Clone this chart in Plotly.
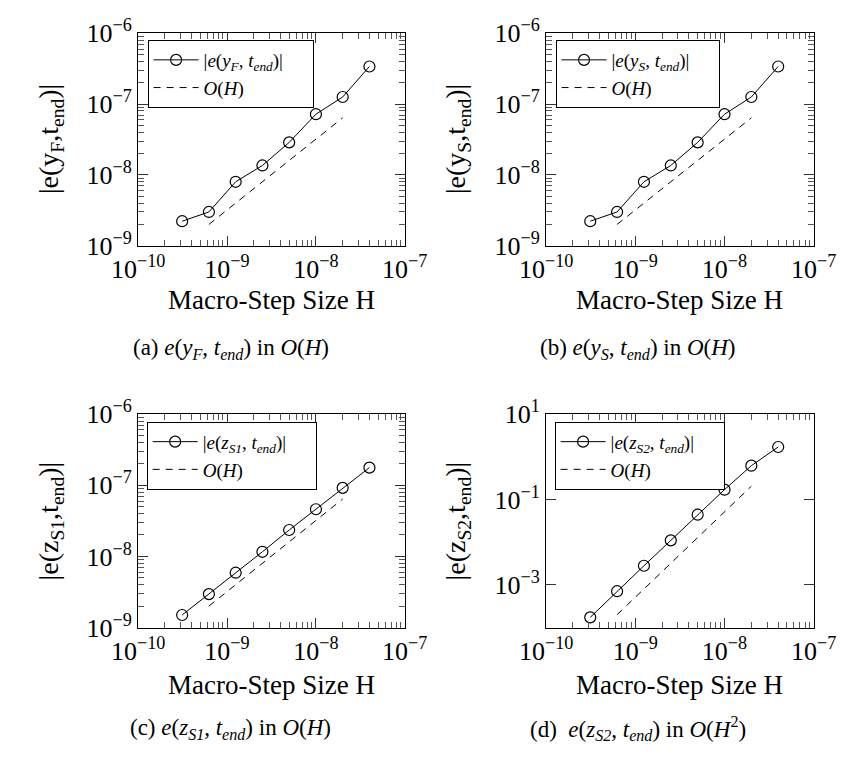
import plotly.graph_objects as go

W, HGT = 864, 765

# ---------------- data ----------------
H = [3.125e-10, 6.25e-10, 1.25e-9, 2.5e-9, 5e-9, 1e-8, 2e-8, 4e-8]
err_yF = [2.22e-9, 3.0e-9, 8.0e-9, 1.36e-8, 2.88e-8, 7.2e-8, 1.26e-7, 3.4e-7]
err_yS = [2.22e-9, 3.0e-9, 8.0e-9, 1.36e-8, 2.88e-8, 7.2e-8, 1.26e-7, 3.4e-7]
err_zS1 = [1.5e-9, 2.95e-9, 5.9e-9, 1.16e-8, 2.35e-8, 4.6e-8, 9.2e-8, 1.77e-7]
err_zS2 = [1.73e-4, 7.1e-4, 2.8e-3, 1.1e-2, 4.4e-2, 0.17, 0.62, 1.7]

H_ref = [6.25e-10, 1.25e-9, 2.5e-9, 5e-9, 1e-8, 2e-8]
ref_O1 = [2e-9, 4e-9, 8e-9, 1.6e-8, 3.2e-8, 6.4e-8]
ref_O2 = [2e-4, 8e-4, 3.2e-3, 1.28e-2, 5.12e-2, 0.2048]

x_tickvals = [1e-10, 1e-9, 1e-8, 1e-7]
x_ticktext = ["10<sup>−10</sup>", "10<sup>−9</sup>", "10<sup>−8</sup>", "10<sup>−7</sup>"]
x_minor = [m * 10.0 ** e for e in (-10, -9, -8) for m in range(2, 10)]
y_tickvals_a = [1e-9, 1e-8, 1e-7, 1e-6]
y_ticktext_a = ["10<sup>−9</sup>", "10<sup>−8</sup>", "10<sup>−7</sup>", "10<sup>−6</sup>"]
y_minor_a = [m * 10.0 ** e for e in (-9, -8, -7) for m in range(2, 10)]
y_tickvals_d = [1e-3, 1e-1, 1e1]
y_ticktext_d = ["10<sup>−3</sup>", "10<sup>−1</sup>", "10<sup>1</sup>"]

NB = "\u00a0"
series_names = ["|<i>e</i>(<i>y<sub>F</sub></i>," + NB + "<i>t<sub>end</sub></i>)|" + NB * 5,
                "|<i>e</i>(<i>y<sub>S</sub></i>," + NB + "<i>t<sub>end</sub></i>)|" + NB * 5,
                "|<i>e</i>(<i>z<sub>S1</sub></i>," + NB + "<i>t<sub>end</sub></i>)|" + NB * 5,
                "|<i>e</i>(<i>z<sub>S2</sub></i>," + NB + "<i>t<sub>end</sub></i>)|" + NB * 5]
ref_name = "<i>O</i>(<i>H</i>)"
y_titles = ["|e(y<sub>F</sub>,t<sub>end</sub>)|", "|e(y<sub>S</sub>,t<sub>end</sub>)|",
            "|e(z<sub>S1</sub>,t<sub>end</sub>)|", "|e(z<sub>S2</sub>,t<sub>end</sub>)|"]
captions = ["(a) <i>e</i>(<i>y<sub>F</sub></i>, <i>t<sub>end</sub></i>) in <i>O</i>(<i>H</i>)",
            "(b) <i>e</i>(<i>y<sub>S</sub></i>, <i>t<sub>end</sub></i>) in <i>O</i>(<i>H</i>)",
            "(c) <i>e</i>(<i>z<sub>S1</sub></i>, <i>t<sub>end</sub></i>) in <i>O</i>(<i>H</i>)",
            "(d)  <i>e</i>(<i>z<sub>S2</sub></i>, <i>t<sub>end</sub></i>) in <i>O</i>(<i>H</i><sup>2</sup>)"]
x_title = "Macro-Step Size H"

errs = [err_yF, err_yS, err_zS1, err_zS2]
refs = [ref_O1, ref_O1, ref_O1, ref_O2]

# ---------------- layout geometry (pixels) ----------------
boxes = [(118, 401, 16, 238), (551, 835, 16, 238), (118, 401, 414, 637), (551, 835, 414, 637)]
legend_pos = [(128, 23), (561, 23), (127, 422), (560, 422)]
ytitle_x = [25, 457, 25, 457]
xtitle_y = [295, 295, 697, 697]
caption_pos = [(216, 346), (648, 346), (216, 743), (648, 743)]

FONT = "Liberation Serif"
fig = go.Figure()
layout = dict(width=W, height=HGT, autosize=False, margin=dict(l=0, r=0, t=0, b=0),
              paper_bgcolor="white", plot_bgcolor="white",
              font=dict(family=FONT, size=25, color="black"), annotations=[])

minor_style = dict(showline=True, linecolor="black", linewidth=1, mirror="ticks",
                   ticks="inside", ticklen=6, tickcolor="#555", tickwidth=1.2,
                   tickmode="array", showticklabels=False, showgrid=False, zeroline=False)

for i in range(4):
    k = "" if i == 0 else str(i + 1)
    x0, x1, y0, y1 = boxes[i]
    leg = "legend" if i == 0 else "legend" + str(i + 1)
    fig.add_trace(go.Scatter(x=H, y=errs[i], mode="lines+markers", name=series_names[i],
                             xaxis="x" + k, yaxis="y" + k, legend=leg,
                             line=dict(color="black", width=1),
                             marker=dict(symbol="circle-open", size=11, color="black",
                                         line=dict(width=1.2, color="black"))))
    fig.add_trace(go.Scatter(x=H_ref, y=refs[i], mode="lines", name=ref_name,
                             xaxis="x" + k, yaxis="y" + k, legend=leg,
                             line=dict(color="black", width=1, dash="7px,6px")))
    yr = [-9, -6] if i < 3 else [-4, 1]
    xa = dict(type="log", range=[-10, -7], domain=[x0 / W, x1 / W], anchor="y" + k,
              showline=True, linecolor="black", linewidth=1, mirror="ticks",
              ticks="inside", ticklen=10, tickcolor="#333", tickwidth=1.2,
              tickmode="array", tickvals=x_tickvals, ticktext=x_ticktext,
              showgrid=False, zeroline=False, tickfont=dict(size=26, family=FONT))
    if i < 3:
        yv, yt = y_tickvals_a, y_ticktext_a
    else:
        yv, yt = y_tickvals_d, y_ticktext_d
    ya = dict(type="log", range=yr, domain=[1 - y1 / HGT, 1 - y0 / HGT], anchor="x" + k,
              showline=True, linecolor="black", linewidth=1, mirror="ticks",
              ticks="inside", ticklen=10, tickcolor="#333", tickwidth=1.2,
              tickmode="array", tickvals=yv, ticktext=yt, showgrid=False, zeroline=False,
              tickfont=dict(size=26, family=FONT))
    layout["xaxis" + k] = xa
    layout["yaxis" + k] = ya

    # minor ticks on overlay axes
    mx = str(5 + i)
    layout["xaxis" + mx] = dict(type="log", range=[-10, -7], overlaying="x" + k,
                                anchor="y" + k, tickvals=x_minor, **minor_style)
    fig.add_trace(go.Scatter(x=[H[0]], y=[errs[i][0]], mode="markers",
                             marker=dict(opacity=0), showlegend=False, hoverinfo="skip",
                             xaxis="x" + mx, yaxis="y" + k))
    if i < 3:
        my = str(5 + i)
        layout["yaxis" + my] = dict(type="log", range=yr, overlaying="y" + k,
                                    anchor="x" + k, tickvals=y_minor_a, **minor_style)
        fig.add_trace(go.Scatter(x=[H[0]], y=[errs[i][0]], mode="markers",
                                 marker=dict(opacity=0), showlegend=False, hoverinfo="skip",
                                 xaxis="x" + k, yaxis="y" + my))

    lx, ly = legend_pos[i]
    layout[leg] = dict(x=lx / W, y=1 - ly / HGT, xanchor="left", yanchor="top",
                       bgcolor="white", bordercolor="black", borderwidth=1,
                       font=dict(family=FONT, size=19), itemwidth=45,
                       tracegroupgap=0)
    layout["annotations"].append(dict(x=ytitle_x[i] / W, y=1 - ((y0 + y1) / 2) / HGT,
                                      xref="paper", yref="paper", text=y_titles[i],
                                      textangle=-90, showarrow=False,
                                      font=dict(size=28, family=FONT),
                                      xanchor="center", yanchor="middle"))
    layout["annotations"].append(dict(x=((x0 + x1) / 2) / W, y=1 - xtitle_y[i] / HGT,
                                      xref="paper", yref="paper", text=x_title,
                                      showarrow=False, font=dict(size=27, family=FONT),
                                      xanchor="center", yanchor="middle"))
    cx, cy = caption_pos[i]
    layout["annotations"].append(dict(x=cx / W, y=1 - cy / HGT, xref="paper", yref="paper",
                                      text=captions[i], showarrow=False,
                                      font=dict(size=23, family=FONT),
                                      xanchor="center", yanchor="middle"))

fig.update_layout(**layout)
fig.write_html("out.html")
